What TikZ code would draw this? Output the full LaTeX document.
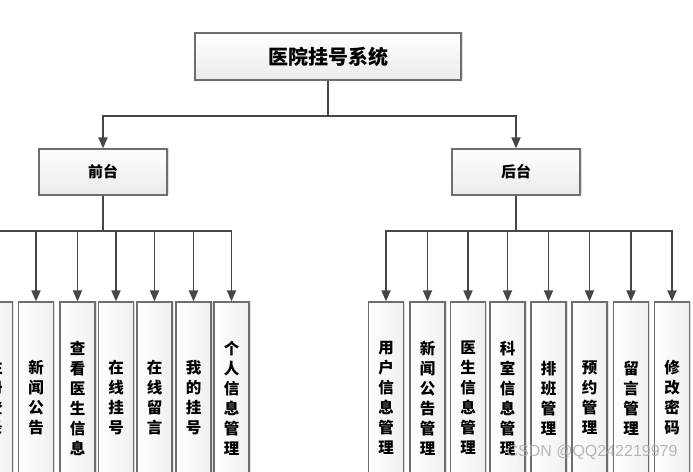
\documentclass[tikz,border=0pt]{standalone}
\usepackage{fontspec}
\setmainfont{Liberation Sans}
\newfontfamily\cjk{Noto Sans CJK SC}
\usetikzlibrary{arrows.meta,positioning,shadows}
\definecolor{LineGray}{RGB}{70,70,70}
\definecolor{BoxEdge}{RGB}{110,110,110}

\tikzset{
  topbox/.style={draw=BoxEdge,line width=1.2pt,top color=white,bottom color=gray!16,
    drop shadow={shadow xshift=1.5pt,shadow yshift=1.5pt,opacity=0.25},
    font=\cjk\bfseries\fontsize{15}{17}\selectfont,inner sep=0pt},
  leafbox/.style={draw=BoxEdge,line width=1.2pt,left color=white,right color=gray!12,
    drop shadow={shadow xshift=1.5pt,shadow yshift=1.5pt,opacity=0.25},
    minimum width=35pt,minimum height=192pt,inner sep=0pt,align=center,
    font=\cjk\bfseries\fontsize{15.5}{20}\selectfont},
  arr/.style={-{Triangle[width=9pt,length=11pt]},draw=LineGray,line width=1.8pt}
}

\begin{document}
\begin{tikzpicture}[x=1pt,y=-1pt]
  \clip (0,0) rectangle (693,471);
  \fill[white] (0,0) rectangle (693,471);

  % root and the two branches
  \node[topbox,minimum width=266pt,minimum height=47pt,
        font=\cjk\bfseries\fontsize{20}{22}\selectfont] (sys) at (328,56.5) {医院挂号系统};
  \node[topbox,minimum width=128pt,minimum height=46pt] (qt) at (103,172) {前台};
  \node[topbox,minimum width=128pt,minimum height=46pt] (ht) at (516,172) {后台};

  \draw[arr] (sys.south) -- ++(0,35) -| (qt.north);
  \draw[arr] (sys.south) -- ++(0,35) -| (ht.north);

  % front-end modules
  \foreach \px/\txt [count=\i] in {-5/注\\册\\登\\录, 36/新\\闻\\公\\告,
      77.5/查\\看\\医\\生\\信\\息, 116/在\\线\\挂\\号, 154.5/在\\线\\留\\言,
      193.5/我\\的\\挂\\号, 231.5/个\\人\\信\\息\\管\\理} {
    \node[leafbox] (f\i) at (\px,398) {\txt};
    \draw[arr] (qt.south) -- ++(0,35) -| (f\i.north);
  }

  % back-end modules
  \foreach \px/\txt [count=\i] in {386/用\\户\\信\\息\\管\\理, 427.5/新\\闻\\公\\告\\管\\理,
      468/医\\生\\信\\息\\管\\理, 507.5/科\\室\\信\\息\\管\\理, 548.5/排\\班\\管\\理,
      589.5/预\\约\\管\\理, 631/留\\言\\管\\理, 672/修\\改\\密\\码} {
    \node[leafbox] (b\i) at (\px,398) {\txt};
    \draw[arr] (ht.south) -- ++(0,35) -| (b\i.north);
  }

  \node[text=gray!70,opacity=0.8,font=\fontsize{16}{18}\selectfont,anchor=west]
    (wm) at (503,452) {CSDN @QQ242219979};
\end{tikzpicture}
\end{document}
